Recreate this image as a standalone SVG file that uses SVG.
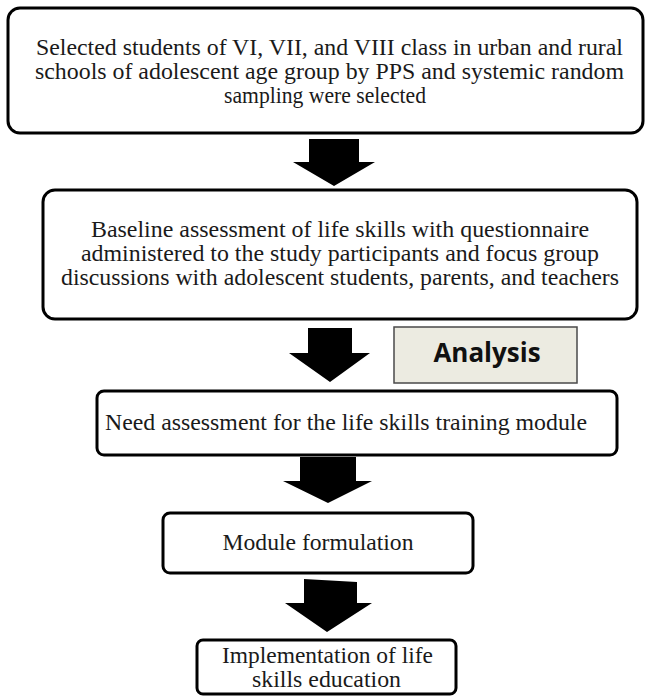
<svg xmlns="http://www.w3.org/2000/svg" width="645" height="696" viewBox="0 0 645 696">
<style>
.box{fill:#ffffff;stroke:#000000;stroke-width:3}
.an{fill:#ecebe1;stroke:#4a4a4a;stroke-width:1.5}
.t{font-family:"Liberation Serif","Times New Roman",serif;font-size:24px;fill:#1a1a1a;text-anchor:middle}
.b{font-family:"Open Sans","Noto Sans",sans-serif;font-size:26px;font-weight:bold;fill:#111111;text-anchor:middle}
.arr{fill:#000000}
</style>
<rect width="645" height="696" fill="#ffffff"/>
<g id="connectors">
<polygon class="arr" points="309,139 359,139 359,162 375,162 334,186 293,162 309,162"/>
<polygon class="arr" points="308,328 352,328 352,353 370,353 330,382 289,353 308,353"/>
<polygon class="arr" points="300,457 356,457 356,481 372,481 328,503 283,481 300,481"/>
<polygon class="arr" points="304,579 357,582 357,603 372,603 327,632 285,603 304,603"/>
</g>
<g id="node1">
<rect class="box" x="8" y="8" width="635" height="125" rx="12"/>
<text class="t" x="329.5" y="55" textLength="587" lengthAdjust="spacingAndGlyphs">Selected students of  VI, VII, and VIII class in urban and rural</text>
<text class="t" x="329.5" y="79" textLength="589" lengthAdjust="spacingAndGlyphs">schools of adolescent age group by PPS and systemic random</text>
<text class="t" x="325" y="103" textLength="202" lengthAdjust="spacingAndGlyphs">sampling were selected</text>
</g>
<g id="node2">
<rect class="box" x="43" y="190" width="594" height="129" rx="12"/>
<text class="t" x="340" y="237" textLength="498" lengthAdjust="spacingAndGlyphs">Baseline assessment of life skills with questionnaire</text>
<text class="t" x="340" y="261" textLength="518" lengthAdjust="spacingAndGlyphs">administered to the study participants and focus group</text>
<text class="t" x="340" y="285" textLength="558" lengthAdjust="spacingAndGlyphs">discussions with adolescent students, parents, and teachers</text>
</g>
<g id="analysis">
<rect class="an" x="394" y="327" width="183" height="56"/>
<text class="b" x="487" y="362">Analysis</text>
</g>
<g id="node3">
<rect class="box" x="97" y="391" width="520" height="64" rx="7"/>
<text class="t" x="346" y="430" textLength="482" lengthAdjust="spacingAndGlyphs">Need assessment for the life skills training module</text>
</g>
<g id="node4">
<rect class="box" x="163" y="513" width="310" height="60" rx="7"/>
<text class="t" x="318" y="550" textLength="191" lengthAdjust="spacingAndGlyphs">Module formulation</text>
</g>
<g id="node5">
<rect class="box" x="197" y="640" width="259" height="54" rx="6"/>
<text class="t" x="327.5" y="663" textLength="211" lengthAdjust="spacingAndGlyphs">Implementation of life</text>
<text class="t" x="326.5" y="687" textLength="149" lengthAdjust="spacingAndGlyphs">skills education</text>
</g>
</svg>
